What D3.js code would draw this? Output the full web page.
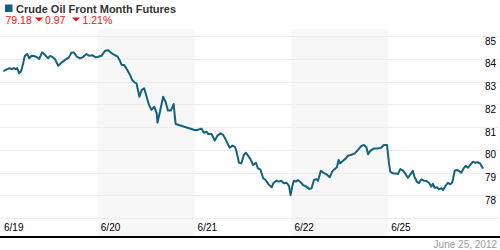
<!DOCTYPE html>
<meta charset="utf-8">
<style>
html, body {
  margin: 0;
  overflow: hidden;
  width: 500px;
  height: 250px;
  background: #fff;
}
svg text {
  font-family: "Liberation Sans", Arial, sans-serif;
}
</style>
<body>
<script src="https://d3js.org/d3.v7.min.js"></script>
<script>
var width = 500,
    height = 250;

// trading hours since 6/19 00:00 (weekend skipped)
var hours = [
  0.6, 1.2, 2.0, 2.7, 3.2, 3.7, 4.0, 4.5, 5.0, 5.5, 5.9, 6.5, 7.0, 7.6, 8.2, 9.0, 9.5,
  10.2, 10.7, 11.3, 11.7, 12.1, 12.7, 13.4, 14.2, 15.0, 15.9, 16.8, 17.5, 18.1, 18.8,
  19.6, 20.2, 21.2, 21.9, 22.7, 23.5, 24.1,
  24.9, 25.8, 26.6, 27.0, 27.8, 28.9, 29.5, 29.9, 30.5, 31.3, 32.0, 32.5, 33.2, 33.6,
  34.3, 34.9, 35.5, 36.1, 36.7, 37.3, 38.0, 38.6, 38.8, 39.5, 40.2, 40.8, 41.4, 42.1,
  42.8, 43.3, 48.0,
  48.6, 49.7, 50.3, 51.0, 51.4, 52.2, 53.0, 53.6, 54.4, 55.1, 55.9, 56.7, 57.4, 58.0,
  58.4, 59.0, 59.6, 60.2, 60.7, 61.3, 61.9, 62.5, 63.2, 63.7, 64.3, 65.0, 65.6, 66.3,
  67.1, 67.6, 68.3, 68.9, 69.5, 70.1, 70.8, 71.4, 71.8, 72.2,
  72.6, 73.1, 73.6, 74.3, 74.9, 75.7, 76.5, 77.0, 77.6, 78.2, 78.6, 79.3, 79.8, 80.7,
  81.5, 82.1, 82.7, 83.3, 83.7, 84.1, 84.8, 85.5, 86.0, 86.9, 87.7, 88.5, 89.3, 90.0,
  90.6, 91.0, 91.6, 92.5, 93.5, 94.3, 94.9, 95.7,
  96.2, 96.5, 97.2, 98.0, 98.4, 99.0, 99.7, 100.3, 100.9, 101.5, 102.1, 102.5, 103.1,
  103.6, 104.2, 104.8, 105.4, 106.1, 106.7, 107.1, 107.5, 108.1, 108.6, 109.2, 109.6,
  110.2, 110.8, 111.4, 111.9, 112.5, 112.9, 113.5, 114.1, 114.7, 115.2, 115.8, 116.3,
  117.0, 117.7, 118.2, 118.8, 119.5
];

var prices = [
  83.46, 83.51, 83.58, 83.55, 83.58, 83.55, 83.59, 83.36, 83.46, 83.80, 84.12, 84.21, 84.02, 84.13, 84.12, 84.06, 83.99,
  84.28, 84.21, 84.09, 84.02, 84.12, 84.09, 83.98, 83.69, 83.83, 83.95, 84.05, 84.28, 84.27, 84.09,
  84.02, 84.06, 84.21, 84.13, 84.15, 84.06, 84.09,
  84.13, 84.35, 84.37, 84.31, 84.20, 84.09, 83.91, 83.73, 83.73, 83.51, 83.29, 83.07, 82.95, 82.92,
  82.33, 82.63, 82.70, 82.33, 81.97, 81.75, 81.89, 81.60, 81.19, 81.75, 82.33, 82.11, 81.72, 81.72,
  82.01, 81.13, 80.87,
  80.87, 80.93, 80.75, 80.79, 80.69, 80.69, 80.40, 80.60, 80.72, 80.65, 80.38, 80.09, 80.18, 80.13,
  79.91, 79.43, 79.40, 79.77, 79.87, 79.73, 79.58, 79.33, 79.43, 79.18, 79.14, 78.75, 78.67, 78.49,
  78.35, 78.55, 78.64, 78.60, 78.64, 78.53, 78.55, 78.41, 78.01, 78.38,
  78.64, 78.60, 78.67, 78.57, 78.45, 78.38, 78.27, 78.31, 78.67, 78.71, 78.64, 79.08, 79.01, 78.92,
  78.79, 79.04, 79.15, 79.23, 79.55, 79.40, 79.52, 79.62, 79.74, 79.78, 79.84, 79.99, 80.16, 80.21,
  80.11, 79.80, 79.96, 80.06, 80.06, 80.09, 80.21, 80.21,
  79.40, 79.04, 78.96, 78.96, 78.93, 79.15, 79.08, 78.93, 78.77, 78.92, 79.07, 78.82, 78.60,
  78.53, 78.70, 78.64, 78.63, 78.55, 78.38, 78.50, 78.33, 78.35, 78.26, 78.31, 78.23,
  78.41, 78.55, 78.48, 78.57, 79.08, 79.11, 79.08, 78.99, 79.18, 79.29, 79.21, 79.33,
  79.47, 79.43, 79.45, 79.40, 79.18
];

var days = ["6/19", "6/20", "6/21", "6/22", "6/25"];
var gridValues = [77, 78, 79, 80, 81, 82, 83, 84, 85];
var labelValues = [78, 79, 80, 81, 82, 83, 84, 85];

var x = d3.scaleLinear().domain([0, 120]).range([1, 485]);
var y = d3.scaleLinear().domain([77, 85]).range([218, 36]);

var svg = d3.select("body").append("svg")
    .attr("width", width)
    .attr("height", height);

// alternate day shading
svg.selectAll("rect.band")
  .data(days.filter(function(d, i) { return i % 2 == 1; }))
  .enter().append("rect")
    .attr("class", "band")
    .attr("x", function(d) { return x(days.indexOf(d) * 24); })
    .attr("width", x(24) - x(0))
    .attr("y", 29)
    .attr("height", 208)
    .attr("fill", "#f7f7f7");

// grid lines
svg.selectAll("line.grid")
  .data(gridValues)
  .enter().append("line")
    .attr("class", "grid")
    .attr("x1", 0)
    .attr("x2", 499)
    .attr("y1", function(d) { return Math.round(y(d)) + 0.5; })
    .attr("y2", function(d) { return Math.round(y(d)) + 0.5; })
    .attr("stroke", "#ececec")
    .attr("stroke-width", 1);

// y labels, right side, just under the line
svg.selectAll("text.ylab")
  .data(labelValues)
  .enter().append("text")
    .attr("class", "ylab")
    .attr("x", 496)
    .attr("y", function(d) { return y(d) + 8.5; })
    .attr("text-anchor", "end")
    .attr("font-size", "10px")
    .attr("fill", "#000")
    .text(function(d) { return d; });

// day labels
svg.selectAll("text.xlab")
  .data(days)
  .enter().append("text")
    .attr("class", "xlab")
    .attr("x", function(d, i) { return x(i * 24) + 3; })
    .attr("y", 231)
    .attr("font-size", "10px")
    .attr("fill", "#000")
    .text(function(d) { return d; });

// bottom axis line
svg.append("line")
  .attr("x1", 0)
  .attr("x2", 500)
  .attr("y1", 237)
  .attr("y2", 237)
  .attr("stroke", "#000")
  .attr("stroke-width", 2);

// price line
var line = d3.line()
  .x(function(d, i) { return x(hours[i]); })
  .y(function(d) { return y(d); });

svg.append("path")
  .datum(prices)
  .attr("d", line)
  .attr("fill", "none")
  .attr("stroke", "#13627e")
  .attr("stroke-width", 2)
  .attr("stroke-linejoin", "round");

// header
svg.append("rect")
  .attr("x", 5)
  .attr("y", 4.5)
  .attr("width", 7.5)
  .attr("height", 7.5)
  .attr("fill", "#14607c");

svg.append("text")
  .attr("x", 16)
  .attr("y", 12.5)
  .attr("font-size", "11px")
  .attr("font-weight", "bold")
  .attr("fill", "#333")
  .text("Crude Oil Front Month Futures");

var last = prices[prices.length - 1],
    change = 0.97,
    pct = 1.21;

var red = "#ee1111";
svg.append("text")
  .attr("x", 5.5)
  .attr("y", 24)
  .attr("font-size", "10.5px")
  .attr("fill", red)
  .text(last.toFixed(2));

function downArrow(cx) {
  svg.append("path")
    .attr("d", "M" + (cx - 4) + ",17.5L" + (cx + 4) + ",17.5L" + cx + ",21.5Z")
    .attr("fill", red);
}

downArrow(39);
svg.append("text")
  .attr("x", 45)
  .attr("y", 24)
  .attr("font-size", "10.5px")
  .attr("fill", red)
  .text(change.toFixed(2));

downArrow(76);
svg.append("text")
  .attr("x", 82.5)
  .attr("y", 24)
  .attr("font-size", "10.5px")
  .attr("fill", red)
  .text(pct.toFixed(2) + "%");

// date stamp
svg.append("text")
  .attr("x", 497)
  .attr("y", 248)
  .attr("text-anchor", "end")
  .attr("font-size", "10px")
  .attr("fill", "#999")
  .text("June 25, 2012");
</script>
</body>
